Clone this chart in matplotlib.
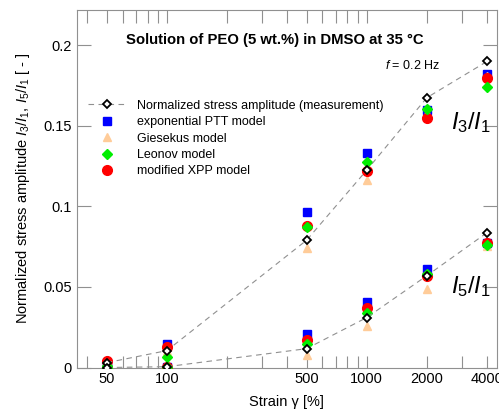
import matplotlib.pyplot as plt
from matplotlib.ticker import FixedLocator, NullFormatter, LogLocator

plt.rcParams['font.family'] = ['Liberation Sans', 'DejaVu Sans']
plt.rcParams['mathtext.fontset'] = 'custom'
plt.rcParams['mathtext.rm'] = 'Liberation Sans'
plt.rcParams['mathtext.it'] = 'Liberation Sans:italic'

strain = [50, 100, 500, 1000, 2000, 4000]

# I3/I1
i3_meas = [0.003, 0.0105, 0.079, 0.1225, 0.1675, 0.190]
i3_ptt = [0.003, 0.0145, 0.0966, 0.133, 0.160, 0.182]
i3_gies = [0.001, 0.010, 0.074, 0.1167, 0.158, 0.181]
i3_leo = [0.001, 0.0063, 0.087, 0.1274, 0.1606, 0.174]
i3_xpp = [0.0043, 0.013, 0.088, 0.1218, 0.155, 0.180]

# I5/I1
i5_meas = [0.0, 0.0005, 0.0117, 0.031, 0.057, 0.0837]
i5_ptt = [0.0, 0.0003, 0.0211, 0.0408, 0.0613, 0.0775]
i5_gies = [0.0, 0.0002, 0.0078, 0.0258, 0.049, 0.0755]
i5_leo = [0.0, 0.0003, 0.0146, 0.034, 0.058, 0.076]
i5_xpp = [0.0, 0.0005, 0.017, 0.037, 0.0566, 0.077]

fig = plt.figure(figsize=(4.99, 4.12), dpi=100)
ax = fig.add_axes([0.154, 0.108, 0.842, 0.868])

ms = 6
for meas, ptt, gies, leo, xpp, lab in [
        (i3_meas, i3_ptt, i3_gies, i3_leo, i3_xpp, True),
        (i5_meas, i5_ptt, i5_gies, i5_leo, i5_xpp, False)]:
    ax.plot(strain, ptt, 's', color='#0000ff', ms=ms, zorder=3,
            label='exponential PTT model' if lab else None)
    ax.plot(strain, gies, '^', color='#ffcc99', ms=ms, zorder=3,
            label='Giesekus model' if lab else None)
    ax.plot(strain, xpp, 'o', color='#ff0000', ms=ms + 1, zorder=4,
            label='modified XPP model' if lab else None)
    ax.plot(strain, leo, 'D', color='#00ee00', ms=ms - 1, zorder=5,
            label='Leonov model' if lab else None)
    ax.plot(strain, meas, '--D', color='#909090', lw=0.8, dashes=(5, 4),
            mfc='white', mec='black', mew=1.3, ms=4, zorder=6,
            label='Normalized stress amplitude (measurement)' if lab else None)

ax.set_xscale('log')
ax.set_xlim(35.4, 4490)
ax.set_ylim(0, 0.222)

ax.xaxis.set_major_locator(FixedLocator(strain))
ax.xaxis.set_major_formatter(plt.FixedFormatter([str(s) for s in strain]))
ax.xaxis.set_minor_locator(LogLocator(base=10, subs=range(2, 10)))
ax.xaxis.set_minor_formatter(NullFormatter())
ax.set_yticks([0, 0.05, 0.1, 0.15, 0.2])
ax.set_yticklabels(['0', '0.05', '0.1', '0.15', '0.2'])

ax.tick_params(which='both', direction='in', top=True, right=True,
               color='#909090', labelsize=10.5, length=9, width=0.8)
ax.tick_params(axis='y', which='major', length=10)
for sp in ax.spines.values():
    sp.set_color('#909090')

ax.set_xlabel('Strain γ [%]', fontsize=10.5, labelpad=6)
ax.set_ylabel('Normalized stress amplitude $I_3/I_1$, $I_5/I_1$ [ - ]',
              fontsize=10.5, labelpad=8)

ax.text(0.47, 0.915, 'Solution of PEO (5 wt.%) in DMSO at 35 °C',
        transform=ax.transAxes, ha='center', va='center',
        fontsize=10.7, fontweight='bold')
ax.text(0.8, 0.845, '$f$ = 0.2 Hz', transform=ax.transAxes,
        ha='center', va='center', fontsize=9)
ax.text(2650, 0.152, '$I_3/I_1$', fontsize=17, ha='left', va='center')
ax.text(2650, 0.0505, '$I_5/I_1$', fontsize=17, ha='left', va='center')

handles, labels = ax.get_legend_handles_labels()
order = [4, 0, 1, 3, 2]
ax.legend([handles[i] for i in order], [labels[i] for i in order],
          loc='upper left', bbox_to_anchor=(0.0, 0.78), frameon=False,
          fontsize=9, handlelength=3.0, labelspacing=0.35, handletextpad=0.9)

fig.savefig('out.png', dpi=100)
